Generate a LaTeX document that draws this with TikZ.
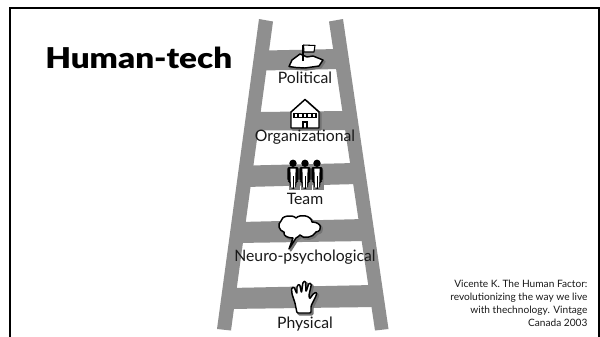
\documentclass[tikz,border=0pt]{standalone}
\usepackage{fontspec}
\setmainfont{Lato}
\newfontfamily\titlefont[FakeStretch=1.16]{Lato Black}
\usetikzlibrary{calc}
\definecolor{ladder}{gray}{0.56}
\tikzset{
 px/.style={x=0.75pt,y=-0.75pt},
 rail/.style={fill=ladder,draw=none},
 rung/.style={fill=ladder,draw=none},
 icon/.style={draw=black,line width=1.1pt,fill=white,line join=round},
 shade/.style={draw=black!55,line width=1.5pt,fill=black!55,line join=round,shift={(1.6,1.6)}},
 lab/.style={font=\fontsize{11.8}{14}\selectfont,text=black!90,inner sep=0pt,anchor=base},
}
\begin{document}
\begin{tikzpicture}[px]
\useasboundingbox (0,0) rectangle (600,336);
\fill[white] (0,0) rectangle (600,336);
% frame
\draw[black,line width=1.5pt] (10,337) -- (10,8.3) -- (599.3,8.3) -- (599.3,337);
% ladder rails
\fill[rail] (259,19) -- (273,21.5) -- (231,330.5) -- (217,329) -- cycle;
\fill[rail] (329,21.5) -- (343,19) -- (388.5,329) -- (375,330.5) -- cycle;
% rungs
\fill[rung] (265,50.5) -- (338,49) -- (341,69) -- (262,70.5) -- cycle;
\fill[rung] (258,112) -- (346,111) -- (349,130) -- (255,130.5) -- cycle;
\fill[rung] (250,165.5) -- (355,163) -- (358,184) -- (246,187) -- cycle;
\fill[rung] (240,222) -- (365,219) -- (367,241) -- (237,243) -- cycle;
\fill[rung] (230,288) -- (373,285) -- (376,307) -- (228,309) -- cycle;
% flag / land
\def\land{(289,66.5) -- (292,60) -- (300,54) -- (307,57) -- (313,56) -- (323,60) -- (319,66) -- (305,68) -- (296,67.5) -- cycle}
\draw[shade] \land;
\draw[icon] \land;
\draw[black,line width=.8pt] (303,61) -- (303,45);
\draw[icon,line width=.8pt] (303.5,45) -- (315,45.5) -- (314,52) -- (304,52) -- cycle;
% building
\def\bldg{(291,128) -- (291,112) -- (305,99.5) -- (319,112) -- (319,128) -- cycle}
\draw[shade] \bldg;
\draw[icon] \bldg;
\fill[black] (293,112.5) rectangle (317,118);
\foreach \i in {0,...,4} \fill[white] (294.5+4.5*\i,113.7) rectangle ++(2.6,3);
\draw[black,line width=.8pt] (303,128) -- (303,122) -- (307,122) -- (307,128);
% team
\foreach \cx in {293,305,317}{
  \begin{scope}[shift={(\cx-293,0)}]
  \fill[black!50] (289,170) rectangle (300,190);
  \fill[black] (293,163.3) circle (3.7);
  \fill[black,rounded corners=1.5pt] (287.3,167) -- (298.7,167) -- (298.7,181) -- (296.5,181) -- (296,188.5) -- (290,188.5) -- (289.5,181) -- (287.3,181) -- cycle;
  \fill[white] (290.4,168.5) -- (295.6,168.5) -- (295.1,187.5) -- (290.9,187.5) -- cycle;
  \draw[black,line width=.7pt] (293,176) -- (293,188.5);
  \end{scope}
}
% speech cloud
\def\cloud{(293,238) .. controls (288,238) and (283,236) .. (284,232) .. controls (279,231) and (277,224) .. (281,221) .. controls (281,216) and (292,214) .. (296,218) .. controls (300,214) and (311,215) .. (312,222) .. controls (322,222) and (323,231) .. (316,232) .. controls (313,238) and (303,239) .. (300,235) .. controls (299,236) and (298,237) .. (296,238) -- (289,249) -- cycle}
\draw[shade] \cloud;
\draw[icon] \cloud;
% hand
\def\hand{(297,313) -- (295,303) -- (292,294) -- (291.5,288) -- (294,287) -- (297,294) -- (297,286) -- (299.5,284) -- (301.5,293) -- (303,282) -- (305.5,281) -- (306,292) -- (309,283) -- (311.5,284) -- (309,295) -- (309.5,299) -- (314,293) -- (317,292.5) -- (316,296) -- (311,306) -- (311,313) -- cycle}
\draw[shade,rounded corners=.8pt] \hand;
\draw[icon,rounded corners=.8pt] \hand;
% labels
\node[lab] (political) at (305,83.5) {Political};
\node[lab] (organizational) at (305,141.5) {Organizational};
\node[lab] (team) at (305,204.5) {Team};
\node[lab] (neuro) at (305,261) {Neuro-psychological};
\node[lab] (physical) at (305,328.5) {Physical};
\node[font=\fontsize{21.5}{26}\titlefont,inner sep=0pt,anchor=base west] (title) at (45,68) {Human-tech};
\node[align=right,anchor=north east,inner sep=0pt,font=\fontsize{7.6}{9.8}\selectfont,text=black!90] (ref) at (587.7,280) {Vicente K. The Human Factor:\\revolutionizing the way we live\\with thechnology. Vintage\\Canada 2003};
\end{tikzpicture}
\end{document}
